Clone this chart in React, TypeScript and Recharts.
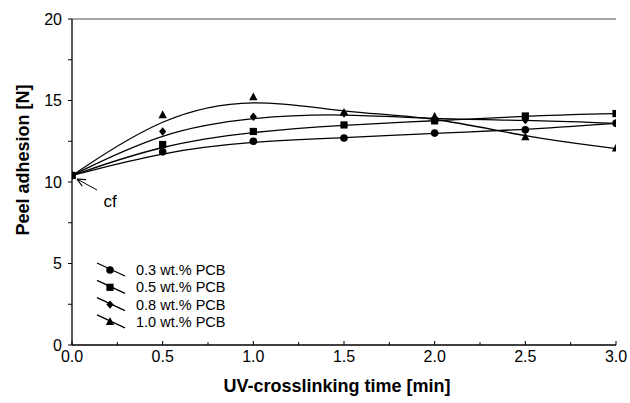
import React from "react";
import {
  LineChart,
  Line,
  XAxis,
  YAxis,
  ReferenceLine,
  ReferenceDot,
} from "recharts";

const times = [0, 0.5, 1.0, 1.5, 2.0, 2.5, 3.0];
const pcb03 = [10.4, 11.85, 12.5, 12.7, 13.0, 13.2, 13.6];
const pcb05 = [10.4, 12.3, 13.1, 13.5, 13.75, 14.05, 14.2];
const pcb08 = [10.4, 13.1, 14.0, 14.2, 13.85, 13.8, 13.6];
const pcb10 = [10.4, 14.1, 15.2, 14.25, 14.0, 12.75, 12.05];

const xTicks = [0, 0.25, 0.5, 0.75, 1, 1.25, 1.5, 1.75, 2, 2.25, 2.5, 2.75, 3];
const yTicks = [0, 2.5, 5, 7.5, 10, 12.5, 15, 17.5, 20];

type Shape = "circle" | "square" | "diamond" | "triangle";

const series: { key: string; name: string; shape: Shape }[] = [
  { key: "p03", name: "0.3 wt.% PCB", shape: "circle" },
  { key: "p05", name: "0.5 wt.% PCB", shape: "square" },
  { key: "p08", name: "0.8 wt.% PCB", shape: "diamond" },
  { key: "p10", name: "1.0 wt.% PCB", shape: "triangle" },
];

const data = times.map((t, i) => ({
  t,
  p03: pcb03[i],
  p05: pcb05[i],
  p08: pcb08[i],
  p10: pcb10[i],
}));

const FONT = "'Liberation Sans', Arial, sans-serif";
const X_TICK_MARGIN = 6;

const Marker = ({ cx, cy, shape }: { cx: number; cy: number; shape: Shape }) => {
  if (shape === "circle") return <circle cx={cx} cy={cy} r={3.8} fill="#000" />;
  if (shape === "square")
    return <rect x={cx - 3.6} y={cy - 3.6} width={7.2} height={7.2} fill="#000" />;
  if (shape === "diamond")
    return (
      <polygon
        points={`${cx},${cy - 4.2} ${cx + 3.6},${cy} ${cx},${cy + 4.2} ${cx - 3.6},${cy}`}
        fill="#000"
      />
    );
  return (
    <polygon
      points={`${cx},${cy - 4.8} ${cx + 4.2},${cy + 3} ${cx - 4.2},${cy + 3}`}
      fill="#000"
    />
  );
};

const XTick = (props: any) => {
  const { x, y, payload } = props;
  const v = payload.value as number;
  const major = Math.abs(v * 2 - Math.round(v * 2)) < 1e-6;
  const axisY = y - X_TICK_MARGIN;
  return (
    <g>
      <line x1={x} x2={x} y1={axisY} y2={axisY - (major ? 4 : 3)} stroke="#000" />
      {major && (
        <text
          x={x}
          y={y}
          dy="0.71em"
          textAnchor="middle"
          fontSize={16}
          fontFamily={FONT}
          fill="#000"
        >
          {v.toFixed(1)}
        </text>
      )}
    </g>
  );
};

const YLabel = (props: any) => {
  const vb = props.viewBox || { x: 0, y: 19, height: 326 };
  const cy = vb.y + vb.height / 2 - 22;
  return (
    <text
      transform={`translate(29,${cy}) rotate(-90)`}
      textAnchor="middle"
      fontSize={18}
      fontWeight="bold"
      fontFamily={FONT}
      fill="#000"
    >
      Peel adhesion [N]
    </text>
  );
};

const LegendOverlay = () => (
  <svg
    width={630}
    height={403}
    style={{ position: "absolute", left: 0, top: 0, pointerEvents: "none" }}
  >
    {series.map((s, i) => {
      const y = 270 + i * 17.3;
      return (
        <g key={s.key}>
          <line x1={97} y1={y - 7} x2={125} y2={y + 6} stroke="#000" strokeWidth={1.3} />
          <Marker cx={110} cy={y} shape={s.shape} />
          <text
            x={136}
            y={y + 5}
            fontSize={14.5}
            fontFamily={FONT}
            fill="#000"
          >
            {s.name}
          </text>
        </g>
      );
    })}
  </svg>
);

export default function App() {
  return (
    <div style={{ position: "absolute", left: 0, top: 0, width: 630, height: 403, background: "#fff" }}>
      <LineChart
        width={630}
        height={403}
        data={data}
        margin={{ top: 19, right: 14, bottom: 0, left: 0 }}
      >
        <XAxis
          dataKey="t"
          type="number"
          domain={[0, 3]}
          ticks={xTicks}
          interval={0}
          allowDataOverflow
          height={58}
          tickSize={0}
          tickLine={false}
          tickMargin={X_TICK_MARGIN}
          tick={XTick}
          stroke="#000"
          axisLine={{ stroke: "#000", strokeWidth: 1.3 }}
          label={{
            value: "UV-crosslinking time [min]",
            position: "insideBottom",
            offset: 11,
            dx: -7,
            fontSize: 18,
            fontWeight: "bold",
            fontFamily: FONT,
            fill: "#000",
          }}
        />
        <YAxis
          type="number"
          domain={[0, 20]}
          ticks={yTicks}
          interval={0}
          width={72}
          tickSize={4}
          tickMargin={6}
          tickFormatter={(v: number) => (v % 5 === 0 ? String(v) : "")}
          tick={{ fontSize: 16, fontFamily: FONT, fill: "#000" }}
          tickLine={{ stroke: "#000" }}
          axisLine={{ stroke: "#000", strokeWidth: 1.3 }}
          label={{ content: YLabel }}
        />
        <ReferenceLine y={20} stroke="#8a8a8a" strokeWidth={1.5} />
        <ReferenceLine
          segment={[
            { x: 0.138, y: 9.51 },
            { x: 0.0276, y: 10.18 },
          ]}
          stroke="#000"
          strokeWidth={1}
        />
        <ReferenceLine
          segment={[
            { x: 0.0568, y: 9.74 },
            { x: 0.0276, y: 10.18 },
          ]}
          stroke="#000"
          strokeWidth={1.2}
        />
        <ReferenceLine
          segment={[
            { x: 0.0772, y: 10.15 },
            { x: 0.0276, y: 10.18 },
          ]}
          stroke="#000"
          strokeWidth={1.2}
        />
        <ReferenceDot
          x={0.21}
          y={8.83}
          r={0}
          fill="none"
          stroke="none"
          label={{ value: "cf", position: "center", fontSize: 17, fontFamily: FONT, fill: "#000" }}
        />
        {series.map((s) => (
          <Line
            key={s.key}
            dataKey={s.key}
            name={s.name}
            type="basis"
            stroke="#000"
            strokeWidth={1.3}
            isAnimationActive={false}
            dot={(p: any) => <Marker key={`${s.key}-${p.index}`} cx={p.cx} cy={p.cy} shape={s.shape} />}
            activeDot={false}
          />
        ))}
      </LineChart>
      <LegendOverlay />
    </div>
  );
}
